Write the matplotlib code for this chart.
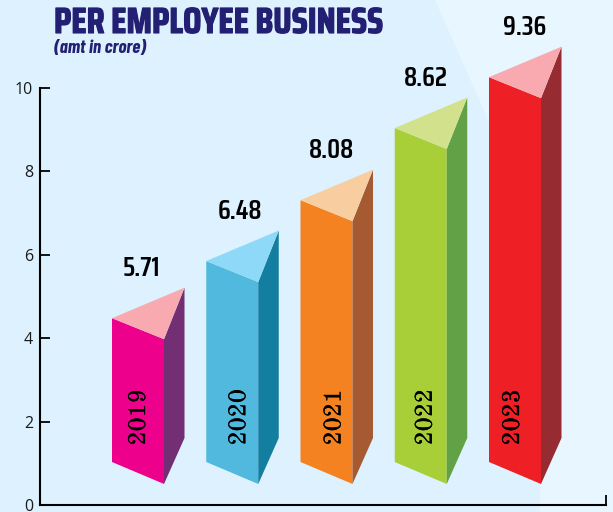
import matplotlib
matplotlib.use("Agg")
import matplotlib.pyplot as plt
from matplotlib.patches import Polygon
import matplotlib.patheffects as pe

# ---- data ----
years = [2019, 2020, 2021, 2022, 2023]
value_labels = ["5.71", "6.48", "8.08", "8.62", "9.36"]
front_top = [4.48, 5.85, 7.31, 9.04, 10.26]   # drawn height on the axis scale
y_ticks = [0, 2, 4, 6, 8, 10]

front_colors = ["#EC008C", "#52B9DE", "#F58220", "#A8CF38", "#EE2026"]
side_colors = ["#722F73", "#147EA0", "#A65A32", "#62A145", "#962B31"]
top_colors = ["#F9AAB0", "#8ED8F8", "#F8CDA0", "#D2E28C", "#F9AAB0"]

# ---- layout ----
W, H = 613, 512
AX_L, AX_R, AX_B, AX_T = 40, 606, 505, 88
PX_PER_X = 94.25
PX_PER_Y = (AX_B - AX_T) / 10
NAVY = "#231F73"
BG = "#DDF1FE"
BG_LIGHT = "#E8F7FF"
NARROW = ["Saira Condensed", "Khand", "Roboto Condensed", "DejaVu Sans"]
NARROW_IT = ["Barlow Condensed", "Roboto Condensed", "DejaVu Sans"]
SERIF = ["Old Standard TT", "Liberation Serif", "DejaVu Serif"]
TICKF = ["Open Sans", "DejaVu Sans"]
bar_w = 52 / PX_PER_X
depth = 20.5 / PX_PER_X
year_dx = [27, 33, 34, 31, 24]
value_dx = [29, 34, 31, 31, 36]

fig = plt.figure(figsize=(W / 100, H / 100), dpi=100, facecolor=BG)
fig.add_artist(Polygon(
    [(435 / W, 1), (540 / W, 1 - 237 / H), (540 / W, 0), (1, 0), (1, 1)],
    closed=True, transform=fig.transFigure, facecolor=BG_LIGHT, edgecolor="none", zorder=-1))

ax = fig.add_axes([AX_L / W, 1 - AX_B / H, (AX_R - AX_L) / W, (AX_B - AX_T) / H])
ax.patch.set_alpha(0)
x_first = years[0] + (AX_L - 112) / PX_PER_X
x_last = x_first + (AX_R - AX_L) / PX_PER_X
ax.set_xlim(x_first, x_last)
ax.set_ylim(0, 10)

for s in ("top", "right"):
    ax.spines[s].set_visible(False)
for s in ("left", "bottom"):
    ax.spines[s].set_linewidth(1.5)
ax.set_yticks(y_ticks)
ax.tick_params(axis="y", direction="in", length=7.5, width=1.3, pad=5,
               labelsize=11.5, labelcolor="#1a1a1a")
for lab in ax.get_yticklabels():
    lab.set_fontfamily(TICKF)
    lab.set_clip_on(False)
ax.set_xticks([x_last])
ax.set_xticklabels([""])
ax.tick_params(axis="x", direction="in", length=7, width=1.3)
for t_ in ax.xaxis.get_major_ticks():
    t_.tick1line.set_clip_on(False)

BASE_L, BASE_R, BASE_B = (505 - 462) / PX_PER_Y, (505 - 484) / PX_PER_Y, (505 - 438) / PX_PER_Y
DROP_R, RISE_B = 21 / PX_PER_Y, 30.5 / PX_PER_Y

for i, yr in enumerate(years):
    x0, x1, x2 = yr, yr + bar_w, yr + bar_w + depth
    t = front_top[i]
    ax.add_patch(Polygon([(x0, BASE_L), (x1, BASE_R), (x1, t - DROP_R), (x0, t)],
                         facecolor=front_colors[i], edgecolor="none", clip_on=False, zorder=3))
    ax.add_patch(Polygon([(x1, BASE_R), (x2, BASE_B), (x2, t + RISE_B), (x1, t - DROP_R)],
                         facecolor=side_colors[i], edgecolor="none", clip_on=False, zorder=3))
    ax.add_patch(Polygon([(x0, t), (x1, t - DROP_R), (x2, t + RISE_B)],
                         facecolor=top_colors[i], edgecolor="none", clip_on=False, zorder=3))
    ax.text(x0 + year_dx[i] / PX_PER_X, 2.1, str(yr), rotation=90, ha="center", va="center",
            family=SERIF, fontsize=17.5, color="black", zorder=4,
            path_effects=[pe.withStroke(linewidth=0.2, foreground="black")])
    ax.annotate(value_labels[i], (x0 + value_dx[i] / PX_PER_X, t + RISE_B),
                xytext=(0, 14), textcoords="offset points", ha="center", va="center",
                family=NARROW, fontsize=19.5, fontweight="semibold", color="black",
                annotation_clip=False, zorder=4)

fig.text(54 / W, 1 - 33 / H, "PER EMPLOYEE BUSINESS", family=NARROW, fontsize=26.2,
         fontweight="bold", color=NAVY, ha="left", va="baseline",
         path_effects=[pe.withStroke(linewidth=0.8, foreground=NAVY)])
fig.text(54 / W, 1 - 53 / H, "(amt in crore)", family=NARROW_IT, fontsize=13.5,
         fontweight="bold", style="italic", color=NAVY, ha="left", va="baseline")

fig.savefig("out.png", dpi=100, facecolor=fig.get_facecolor())
